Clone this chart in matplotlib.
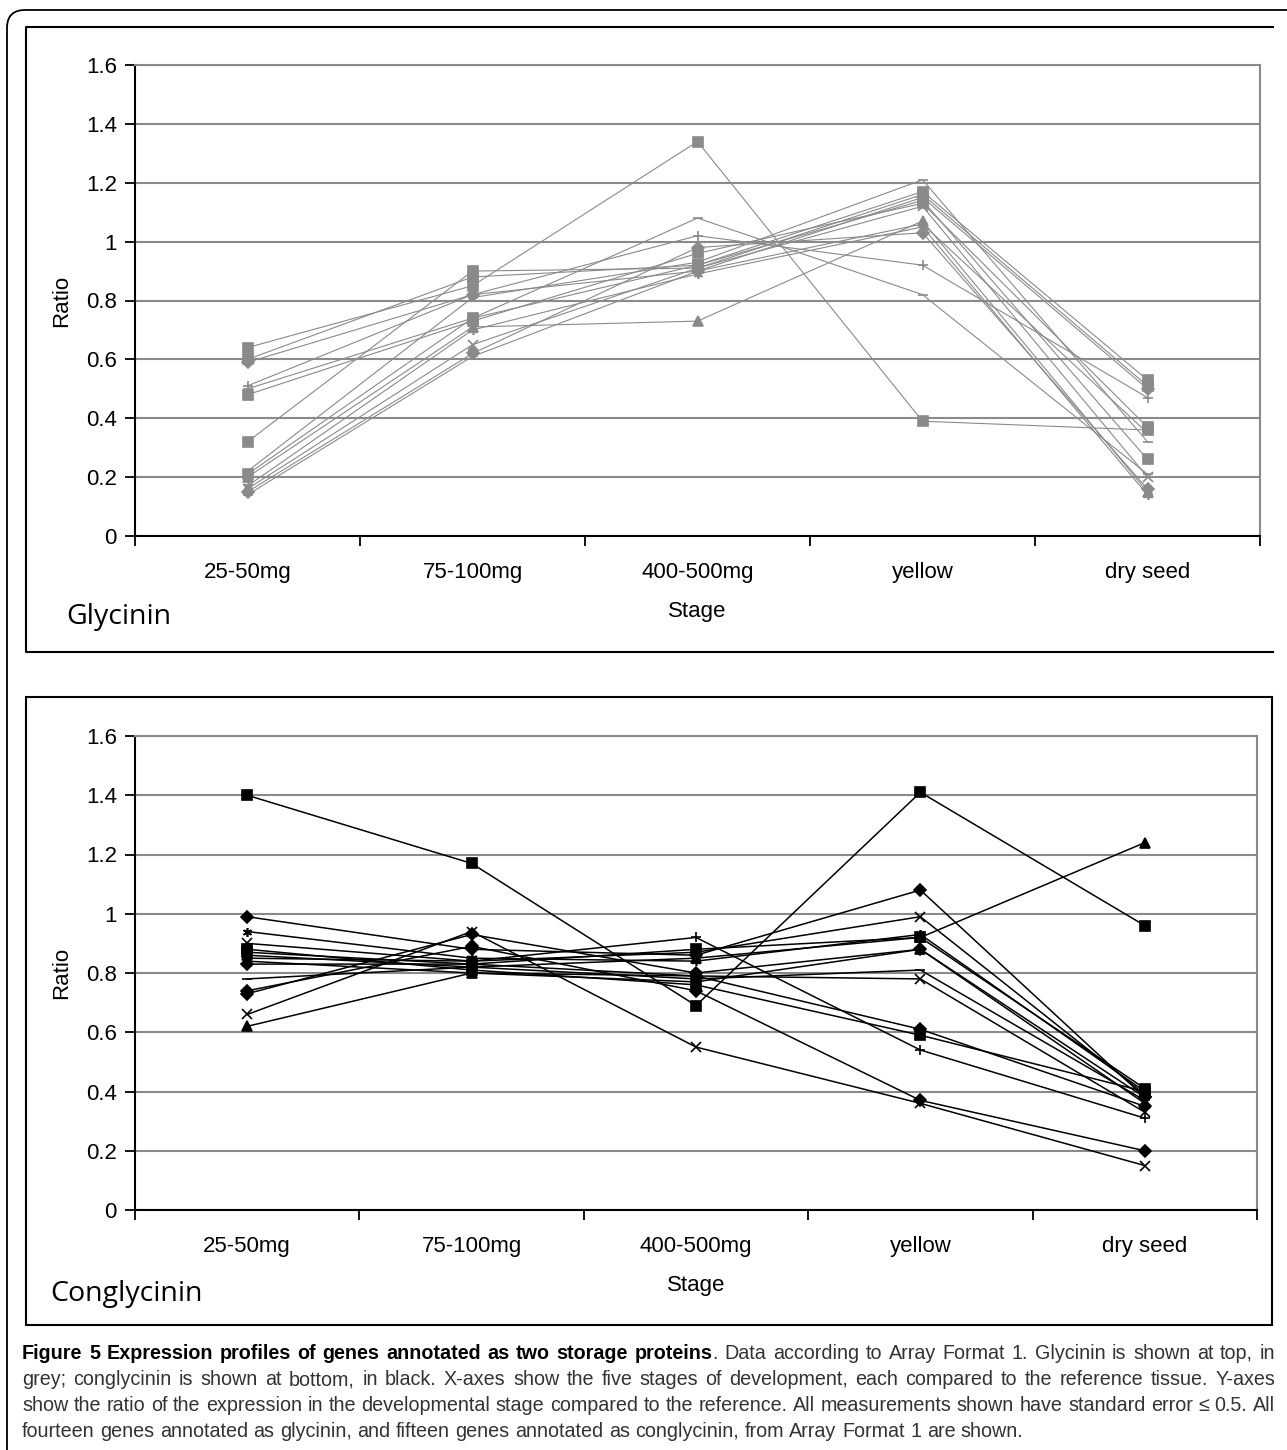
import matplotlib
matplotlib.use("Agg")
import matplotlib.pyplot as plt
from matplotlib import font_manager
from matplotlib.patches import FancyBboxPatch, Rectangle


# Stages on the x axis (same for both panels)
stages = ["25-50mg", "75-100mg", "400-500mg", "yellow", "dry seed"]
ratio_ticks = [0, 0.2, 0.4, 0.6, 0.8, 1.0, 1.2, 1.4, 1.6]
ratio_labels = ["0", "0.2", "0.4", "0.6", "0.8", "1", "1.2", "1.4", "1.6"]

# Glycinin, 14 genes (top panel, grey)
glycinin_ratios = [
    [0.64, 0.85, 1.34, 0.39, 0.36],
    [0.59, 0.82, 0.90, 1.15, 0.50],
    [0.60, 0.88, 0.92, 1.17, 0.53],
    [0.51, 0.82, 1.02, 0.92, 0.47],
    [0.50, 0.74, 1.08, 0.82, 0.21],
    [0.48, 0.73, 0.96, 1.13, 0.37],
    [0.32, 0.90, 0.91, 1.16, 0.51],
    [0.22, 0.81, 0.93, 1.21, 0.32],
    [0.21, 0.74, 0.92, 1.14, 0.26],
    [0.20, 0.71, 0.73, 1.07, 0.15],
    [0.17, 0.70, 0.89, 1.05, 0.14],
    [0.16, 0.65, 0.91, 1.12, 0.20],
    [0.15, 0.62, 0.98, 1.03, 0.16],
    [0.14, 0.61, 0.90, 1.06, 0.35],
]

# Conglycinin, 15 genes (bottom panel, black)
conglycinin_ratios = [
    [1.40, 1.17, 0.69, 1.41, 0.96],
    [0.99, 0.88, 0.86, 1.08, 0.38],
    [0.94, 0.85, 0.84, 0.93, 0.40],
    [0.90, 0.84, 0.87, 0.99, 0.39],
    [0.87, 0.83, 0.88, 0.92, 0.41],
    [0.86, 0.82, 0.85, 0.92, 1.24],
    [0.85, 0.84, 0.92, 0.54, 0.31],
    [0.83, 0.83, 0.79, 0.61, 0.35],
    [0.78, 0.82, 0.78, 0.81, 0.37],
    [0.74, 0.89, 0.74, 0.37, 0.20],
    [0.73, 0.93, 0.80, 0.88, 0.38],
    [0.66, 0.94, 0.55, 0.36, 0.15],
    [0.62, 0.80, 0.77, 0.88, 0.36],
    [0.88, 0.81, 0.76, 0.59, 0.40],
    [0.84, 0.80, 0.79, 0.78, 0.33],
]

STAR = (6, 2, 0)
glycinin_markers = ["s", "D", "s", "+", "_", "s", "s", "_", "s", "^", STAR, "x", "D", "_"]
conglycinin_markers = ["s", "D", STAR, "x", "s", "^", "+", "D", "_", "D", "D", "x", "^", "s", "x"]

caption_lines = [
    [("Figure 5 Expression profiles of genes annotated as two storage proteins", "bold"),
     (". Data according to Array Format 1. Glycinin is shown at top, in", "normal")],
    [("grey; conglycinin is shown at bottom, in black. X-axes show the five stages of development, "
      "each compared to the reference tissue. Y-axes", "normal")],
    [("show the ratio of the expression in the developmental stage compared to the reference. "
      "All measurements shown have standard error \u2264 0.5. All", "normal")],
    [("fourteen genes annotated as glycinin, and fifteen genes annotated as conglycinin, "
      "from Array Format 1 are shown.", "normal")],
]


def pick_font(names):
    for n in names:
        try:
            font_manager.findfont(font_manager.FontProperties(family=n), fallback_to_default=False)
            return n
        except ValueError:
            pass
    return "DejaVu Sans"


tick_font = pick_font(["Liberation Sans", "Arial"])
cap_font = pick_font(["Liberation Sans", "Arial"])
title_font = pick_font(["Open Sans", "Noto Sans"])

W, H = 1287, 1450
fig = plt.figure(figsize=(W / 100, H / 100), dpi=100)

# background axes in pixel coordinates for frames and captions
bg = fig.add_axes([0, 0, 1, 1])
bg.set_xlim(0, W)
bg.set_ylim(H, 0)
bg.axis("off")

bg.add_patch(FancyBboxPatch((7, 10), 1400, 1500, boxstyle="round,pad=0,rounding_size=18",
                            fill=False, ec="black", lw=1.3))
# top panel frame (right side is cut off in the original)
bg.plot([1273, 26, 26, 1273], [27, 27, 652, 652], color="black", lw=1.5)
bg.add_patch(Rectangle((26, 697), 1272 - 26, 1325 - 697, fill=False, ec="black", lw=1.5))


def draw_panel(left, top, right, bottom, data, markers, color, lw, title, title_xy):
    ax = fig.add_axes([left / W, 1 - bottom / H, (right - left) / W, (bottom - top) / H])
    x = [i + 0.5 for i in range(len(stages))]
    for vals, m in zip(data, markers):
        ax.plot(x, vals, color=color, lw=lw, marker=m, ms=6.5, mfc=color, mec=color,
                mew=1.2, clip_on=False, zorder=3)
    ax.set_xlim(0, len(stages))
    ax.set_ylim(0, 1.6)
    ax.set_yticks(ratio_ticks)
    ax.set_yticklabels(ratio_labels, fontsize=16, family=tick_font)
    ax.set_xticks(range(len(stages) + 1))
    ax.set_xticklabels([])
    ax.set_xticks(x, minor=True)
    ax.set_xticklabels(stages, minor=True, fontsize=16, family=tick_font)
    ax.tick_params(axis="x", which="major", direction="out", length=7, width=1.3)
    ax.tick_params(axis="x", which="minor", length=0, pad=19)
    ax.tick_params(axis="y", direction="out", length=7, width=1.3, pad=6)
    ax.yaxis.grid(True, color="#8a8a8a", lw=1.5)
    ax.set_axisbelow(True)
    for s in ("left", "bottom"):
        ax.spines[s].set_color("black")
        ax.spines[s].set_linewidth(1.5)
    for s in ("top", "right"):
        ax.spines[s].set_color("#8a8a8a")
        ax.spines[s].set_linewidth(1.5)
    ax.spines["bottom"].set_zorder(4)
    bg.text(62, (top + bottom) / 2, "Ratio", rotation=90, ha="center", va="center",
            fontsize=16, family=tick_font)
    bg.text((left + right) / 2, bottom + 75, "Stage", ha="center", va="center",
            fontsize=16, family=tick_font)
    bg.text(title_xy[0], title_xy[1], title, ha="left", va="center",
            fontsize=20.5, family=title_font)
    return ax


draw_panel(135, 65, 1260, 536, glycinin_ratios, glycinin_markers, "#8a8a8a", 0.8,
           "Glycinin", (66, 617))
draw_panel(135, 736, 1257, 1210, conglycinin_ratios, conglycinin_markers, "black", 1.1,
           "Conglycinin", (50, 1294))

# caption, justified word by word like the journal layout
renderer = fig.canvas.get_renderer()
cap_x0, cap_x1 = 22, 1275
cap_base = [1359, 1385, 1411, 1437]
cap_size = 14.2


def seg_width(txt, weight):
    t = bg.text(0, 0, txt, fontsize=cap_size, family=cap_font, weight=weight)
    w = t.get_window_extent(renderer).width
    t.remove()
    return w


for li, (line, y) in enumerate(zip(caption_lines, cap_base)):
    # build words made of (text, weight) pieces
    words = []
    for txt, wt in line:
        parts = txt.split(" ")
        for k, p in enumerate(parts):
            if p == "":
                continue
            if k == 0 and words and not txt.startswith(" "):
                words[-1].append((p, wt))
            else:
                words.append([(p, wt)])
    widths = [sum(seg_width(p, wt) for p, wt in w) for w in words]
    last = li == len(caption_lines) - 1
    if last:
        gap = seg_width("a b", "normal") - seg_width("ab", "normal")
    else:
        gap = (cap_x1 - cap_x0 - sum(widths)) / (len(words) - 1)
    xpos = cap_x0
    for w, ww in zip(words, widths):
        xp = xpos
        for p, wt in w:
            col = "black" if wt == "bold" else "#333333"
            bg.text(xp, y, p, fontsize=cap_size, family=cap_font, weight=wt, color=col,
                    ha="left", va="baseline")
            xp += seg_width(p, wt)
        xpos += ww + gap

fig.savefig("out.png", dpi=100)
